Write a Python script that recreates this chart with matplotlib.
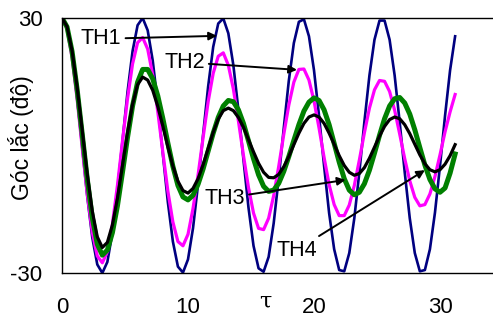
import numpy as np
import matplotlib
matplotlib.use('Agg')
import matplotlib.pyplot as plt

plt.rcParams['font.family'] = ['Liberation Sans', 'DejaVu Sans']
plt.rcParams['axes.unicode_minus'] = False

# time grid (tau), sampled every 0.4
step = 0.4
tau = np.round(np.arange(79) * step, 1)

th1 = [30.0, 27.7, 21.1, 11.2, -0.4, -11.9, -21.6, -28.0, -30.0, -27.4,
       -20.5, -10.5, 1.1, 12.6, 22.2, 28.3, 30.0, 27.1, 20.0, 9.8,
       -1.9, -13.3, -22.6, -28.5, -29.9, -26.8, -19.4, -9.1, 2.6, 13.9,
       23.2, 28.7, 29.9, 26.4, 18.9, 8.4, -3.3, -14.6, -23.6, -28.9,
       -29.7, -26.2, -18.3, -7.7, 4.1, 15.2, 24.1, 29.1, 29.7, 25.7,
       17.7, 7.0, -4.8, -15.9, -24.4, -29.3, -29.6, -25.3, -17.1, -6.3,
       5.6, 16.5, 24.9, 29.4, 29.4, 24.9, 16.5, 5.5, -6.3, -17.1,
       -25.3, -29.6, -29.3, -24.4, -15.8, -4.8, 7.0, 17.7, 25.7]

th2 = [30.0, 27.4, 20.7, 10.9, -0.4, -11.3, -20.3, -26.0, -27.6, -25.0,
       -18.5, -9.4, 1.0, 11.0, 19.2, 24.2, 25.4, 22.7, 16.6, 8.0,
       -1.5, -10.7, -18.0, -22.6, -23.6, -20.9, -14.8, -6.9, 1.9, 10.3,
       17.0, 21.0, 21.8, 18.9, 13.3, 5.8, -2.3, -9.9, -15.9, -19.5,
       -19.8, -17.1, -11.8, -4.9, 2.6, 9.5, 14.9, 17.9, 18.0, 15.4,
       10.5, 4.1, -2.8, -9.2, -13.9, -16.5, -16.5, -14.0, -9.4, -3.4,
       3.0, 8.8, 13.1, 15.3, 15.1, 12.7, 8.3, 2.7, -3.1, -8.3,
       -12.2, -14.2, -13.9, -11.4, -7.3, -2.2, 3.2, 7.9, 12.0]

th3 = [30.0, 27.9, 22.1, 13.2, 2.8, -7.8, -16.9, -23.2, -25.8, -24.6,
       -20.5, -14.2, -6.3, 1.9, 9.3, 14.9, 17.9, 17.9, 15.7, 11.7,
       6.4, 0.6, -4.9, -9.4, -12.1, -12.8, -11.7, -9.1, -5.5, -1.3,
       2.9, 6.6, 9.3, 10.6, 10.3, 8.4, 5.2, 1.1, -3.1, -6.9,
       -9.6, -10.8, -10.5, -8.9, -6.1, -2.6, 1.2, 4.9, 8.1, 10.2,
       11.2, 10.6, 8.4, 4.9, 0.5, -3.9, -7.8, -10.5, -11.6, -11.0,
       -9.0, -5.8, -1.8, 2.4, 6.3, 9.3, 11.0, 11.3, 10.0, 7.4,
       3.7, -0.5, -4.6, -8.0, -10.2, -11.0, -10.0, -6.5, -2.0]

th4 = [30.0, 28.0, 22.3, 13.8, 3.7, -6.6, -15.4, -21.5, -24.0, -22.8,
       -18.7, -12.4, -4.7, 3.0, 9.7, 14.3, 16.1, 15.4, 13.0, 9.2,
       4.6, -0.3, -4.8, -8.4, -10.6, -11.2, -10.1, -7.8, -4.5, -0.7,
       3.1, 6.2, 8.2, 8.8, 8.2, 6.6, 4.3, 1.4, -1.5, -4.2,
       -6.3, -7.5, -7.6, -6.8, -5.0, -2.6, 0.2, 2.9, 5.2, 6.7,
       7.2, 6.7, 5.2, 2.9, 0.3, -2.4, -4.7, -6.3, -7.0, -6.6,
       -5.2, -3.0, -0.4, 2.2, 4.5, 6.1, 6.7, 6.3, 4.9, 2.8,
       0.3, -2.2, -4.3, -5.7, -6.2, -5.7, -4.4, -2.4, 0.2]

x_ticks = [0, 10, 20, 30]
y_ticks = [-30, 30]

# label text, label position, arrow target (data coords)
labels = ['TH1', 'TH2', 'TH3', 'TH4']
label_xy = [(1.5, 25.1), (8.1, 19.6), (11.3, -12.4), (17.0, -24.6)]
arrow_xy = [(12.3, 25.8), (18.65, 17.8), (22.5, -8.1), (28.8, -5.8)]

fig = plt.figure(figsize=(4.93, 3.20), dpi=100)
ax = fig.add_axes([62 / 493, 47 / 320, 1 - 62 / 493, 255 / 320])

ax.plot(tau, th1, color='#000080', lw=1.9)
ax.plot(tau, th2, color='#ff00ff', lw=2.3)
ax.plot(tau, th3, color='#008000', lw=3.6)
ax.plot(tau, th4, color='black', lw=2.3)

for txt, p, q in zip(labels, label_xy, arrow_xy):
    ax.annotate(txt, xy=q, xytext=p, fontsize=15.5, ha='left', va='center',
                annotation_clip=False,
                arrowprops=dict(arrowstyle='-|>', color='black', lw=1.4,
                                mutation_scale=12, shrinkA=1, shrinkB=0))

ax.set_xlim(0, 431 / 12.6)
ax.set_ylim(-30, 30)
ax.set_xticks(x_ticks)
ax.set_yticks(y_ticks)
ax.tick_params(axis='both', length=0, labelsize=16)
ax.tick_params(axis='x', pad=17)
ax.tick_params(axis='y', pad=14)
ax.spines['right'].set_visible(False)
for s in ['left', 'top', 'bottom']:
    ax.spines[s].set_linewidth(1.0)

ax.set_ylabel('Góc lắc (độ)', fontsize=16.5)
ax.yaxis.set_label_coords(-0.065, 0.53)
ax.set_xlabel('τ', fontsize=16, family='DejaVu Serif')
ax.xaxis.set_label_coords(0.471, -0.07)

plt.savefig('out.png', dpi=100)
